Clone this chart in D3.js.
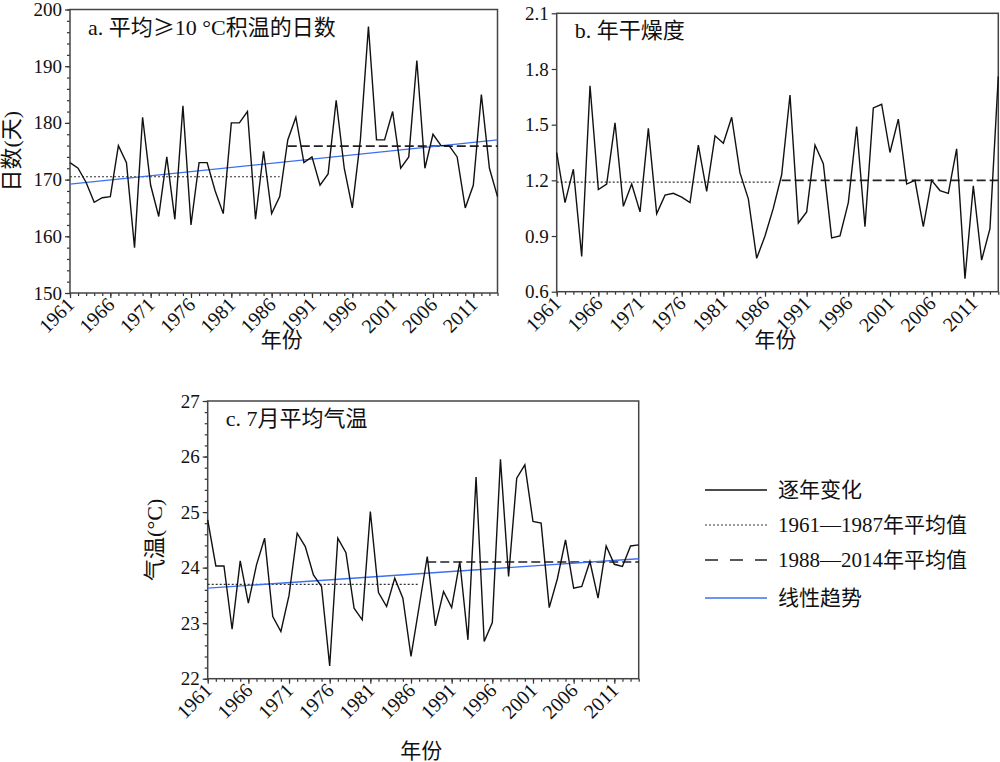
<!DOCTYPE html>
<html>
<head>
<meta charset="utf-8">
<script src="https://cdn.jsdelivr.net/npm/d3@7/dist/d3.min.js"></script>
<style>
body{margin:0;background:#fff;}
text{font-family:"Liberation Serif","Noto Sans CJK SC",serif;fill:#111;}
</style>
</head>
<body>
<svg id="chart" width="1000" height="762"></svg>
<script>
// years 1961-2014
var firstYear = 1961, lastYear = 2014
var years = d3.range(firstYear, lastYear + 1)
var majorYears = [1961,1966,1971,1976,1981,1986,1991,1996,2001,2006,2011]

// a. days of >=10 C accumulated temperature
var daysA = [173,172,169.5,166,166.8,167,176,173,158,181,
             169,163.5,174,163,183,162,173,173,168,164,
             180,180,182,163,175,164,167,177,181,173,
             174,169,171,184,172,165,177,197,177,177,
             182,172,174,191,172,178,176,176,174,165,
             169,185,172,167]
var meansA = [170.5, 175.9]
var trendA = [169.2, 177.0]
var yTicksA = [150,160,170,180,190,200]

// b. annual dryness
var dryB = [1.35,1.08,1.26,0.79,1.71,1.15,1.18,1.51,1.06,1.18,
            1.03,1.48,1.02,1.12,1.13,1.11,1.08,1.39,1.14,1.44,
            1.40,1.54,1.24,1.10,0.78,0.90,1.05,1.23,1.66,0.97,
            1.03,1.39,1.29,0.89,0.90,1.08,1.49,0.95,1.59,1.61,
            1.35,1.53,1.18,1.20,0.95,1.20,1.145,1.13,1.37,0.67,
            1.17,0.77,0.94,1.76]
var meansB = [1.19, 1.20]
var yTicksB = [0.6,0.9,1.2,1.5,1.8,2.1]

// c. July mean temperature
var tempC = [24.86,24.03,24.03,22.89,24.12,23.36,24.05,24.53,23.12,22.85,
             23.5,24.62,24.38,23.87,23.66,22.23,24.53,24.27,23.27,23.06,
             25.01,23.55,23.30,23.81,23.45,22.40,23.30,24.20,22.95,23.57,
             23.28,24.11,22.70,25.63,22.67,23.01,25.95,23.84,25.61,25.85,
             24.83,24.80,23.28,23.80,24.50,23.63,23.66,24.11,23.45,24.39,
             24.06,24.02,24.39,24.41]
var meansC = [23.70, 24.10]
var trendC = [23.63, 24.16]
var yTicksC = [22,23,24,25,26,27]

var legendLabels = ["逐年变化","1961—1987年平均值","1988—2014年平均值","线性趋势"]

var svg = d3.select("#chart")

var panels = [
  {box:{l:70,r:497.5,t:9.5,b:293}, values:daysA, means:meansA, trend:trendA,
   yDomain:[150,200], yTicks:yTicksA, minorStep:2, fmt:d3.format("d"),
   title:["a. 平均","≥","10 °C积温的日数"], yLabel:"日数(天)", yLabelX:11,
   xLabelY:347},
  {box:{l:556.7,r:998.3,t:13.3,b:291.7}, values:dryB, means:meansB, trend:null,
   yDomain:[0.6,2.1], yTicks:yTicksB, minorStep:null, fmt:d3.format(".1f"),
   title:["b. 年干燥度"], yLabel:null, xLabelY:347},
  {box:{l:207.7,r:638.7,t:401,b:678.7}, values:tempC, means:meansC, trend:trendC,
   yDomain:[22,27], yTicks:yTicksC, minorStep:0.2, fmt:d3.format("d"),
   title:["c. 7月平均气温"], yLabel:"气温(°C)", yLabelX:154,
   xLabelY:758}
]

var drawPanel = function(p){
  var b = p.box
  var x = d3.scaleLinear().domain([firstYear,lastYear]).range([b.l,b.r])
  var y = d3.scaleLinear().domain(p.yDomain).range([b.b,b.t])
  var g = svg.append("g")

  // minor x ticks
  g.append("g").attr("transform","translate(0,"+b.b+")")
    .call(d3.axisBottom(x).tickValues(years).tickSize(3).tickFormat(""))
    .call(function(a){a.select(".domain").remove()})
  // major x ticks
  var xa = g.append("g").attr("transform","translate(0,"+b.b+")")
    .call(d3.axisBottom(x).tickValues(majorYears).tickSize(5).tickFormat(d3.format("d")))
  xa.select(".domain").remove()
  xa.selectAll("text")
    .attr("text-anchor","end")
    .attr("dy",null).attr("y",null)
    .attr("transform","translate(5,13) rotate(-45)")
    .style("font-size","20px")
    .style("font-family","Liberation Serif")

  if (p.minorStep){
    var minor = d3.range(p.yDomain[0], p.yDomain[1]+1e-6, p.minorStep)
    g.append("g").attr("transform","translate("+b.l+",0)")
      .call(d3.axisLeft(y).tickValues(minor).tickSize(3).tickFormat(""))
      .call(function(a){a.select(".domain").remove()})
  }
  var ya = g.append("g").attr("transform","translate("+b.l+",0)")
    .call(d3.axisLeft(y).tickValues(p.yTicks).tickSize(5).tickFormat(p.fmt))
  ya.select(".domain").remove()
  ya.selectAll("text").attr("x",-8).style("font-size","19px").style("font-family","Liberation Serif")
  g.selectAll(".tick line").attr("stroke","#333").attr("stroke-width",1.2)

  // frame
  g.append("rect").attr("x",b.l).attr("y",b.t)
    .attr("width",b.r-b.l).attr("height",b.b-b.t)
    .attr("fill","none").attr("stroke","#444").attr("stroke-width",1.5)

  // period means
  g.append("line").attr("x1",x(1961)).attr("x2",x(1987))
    .attr("y1",y(p.means[0])).attr("y2",y(p.means[0]))
    .attr("stroke","#333").attr("stroke-width",1.2).attr("stroke-dasharray","2,2")
  g.append("line").attr("x1",x(1988)).attr("x2",x(2014))
    .attr("y1",y(p.means[1])).attr("y2",y(p.means[1]))
    .attr("stroke","#222").attr("stroke-width",1.6).attr("stroke-dasharray","9,4")

  // trend
  if (p.trend){
    g.append("line").attr("x1",x(firstYear)).attr("x2",x(lastYear))
      .attr("y1",y(p.trend[0])).attr("y2",y(p.trend[1]))
      .attr("stroke","#3d6ff5").attr("stroke-width",1.3)
  }

  // series
  var line = d3.line().x(function(d,i){return x(years[i])}).y(function(d){return y(d)})
  g.append("path").datum(p.values).attr("d",line)
    .attr("fill","none").attr("stroke","#111").attr("stroke-width",1.4)

  var tt = g.append("text").attr("x",b.l+18).attr("y",b.t+25)
    .style("font-size","22px")
  p.title.forEach(function(s,i){
    var sp = tt.append("tspan").text(s)
    if (s == "≥") sp.style("font-family","Noto Sans CJK SC")
  })

  g.append("text").attr("x",(b.l+b.r)/2 - 2).attr("y",p.xLabelY)
    .attr("text-anchor","middle").style("font-size","21px").text("年份")

  if (p.yLabel){
    var cy = (b.t+b.b)/2
    g.append("text").attr("transform","translate("+(p.yLabelX+8)+","+cy+") rotate(-90)")
      .attr("text-anchor","middle").style("font-size","22px").text(p.yLabel)
  }
}

panels.forEach(drawPanel)

// legend
var legendY = [490,525,560,598]
var legendStyles = [
  {stroke:"#111",dash:null,w:1.5},
  {stroke:"#333",dash:"2,2",w:1.2},
  {stroke:"#222",dash:"13,12",w:1.5},
  {stroke:"#3d6ff5",dash:null,w:1.3}
]
var lg = svg.append("g")
legendLabels.forEach(function(t,i){
  var s = legendStyles[i]
  lg.append("line").attr("x1",705).attr("x2",767)
    .attr("y1",legendY[i]).attr("y2",legendY[i])
    .attr("stroke",s.stroke).attr("stroke-width",s.w)
    .attr("stroke-dasharray",s.dash)
  lg.append("text").attr("x",778).attr("y",legendY[i]+7)
    .style("font-size","21px").text(t)
})
</script>
</body>
</html>
